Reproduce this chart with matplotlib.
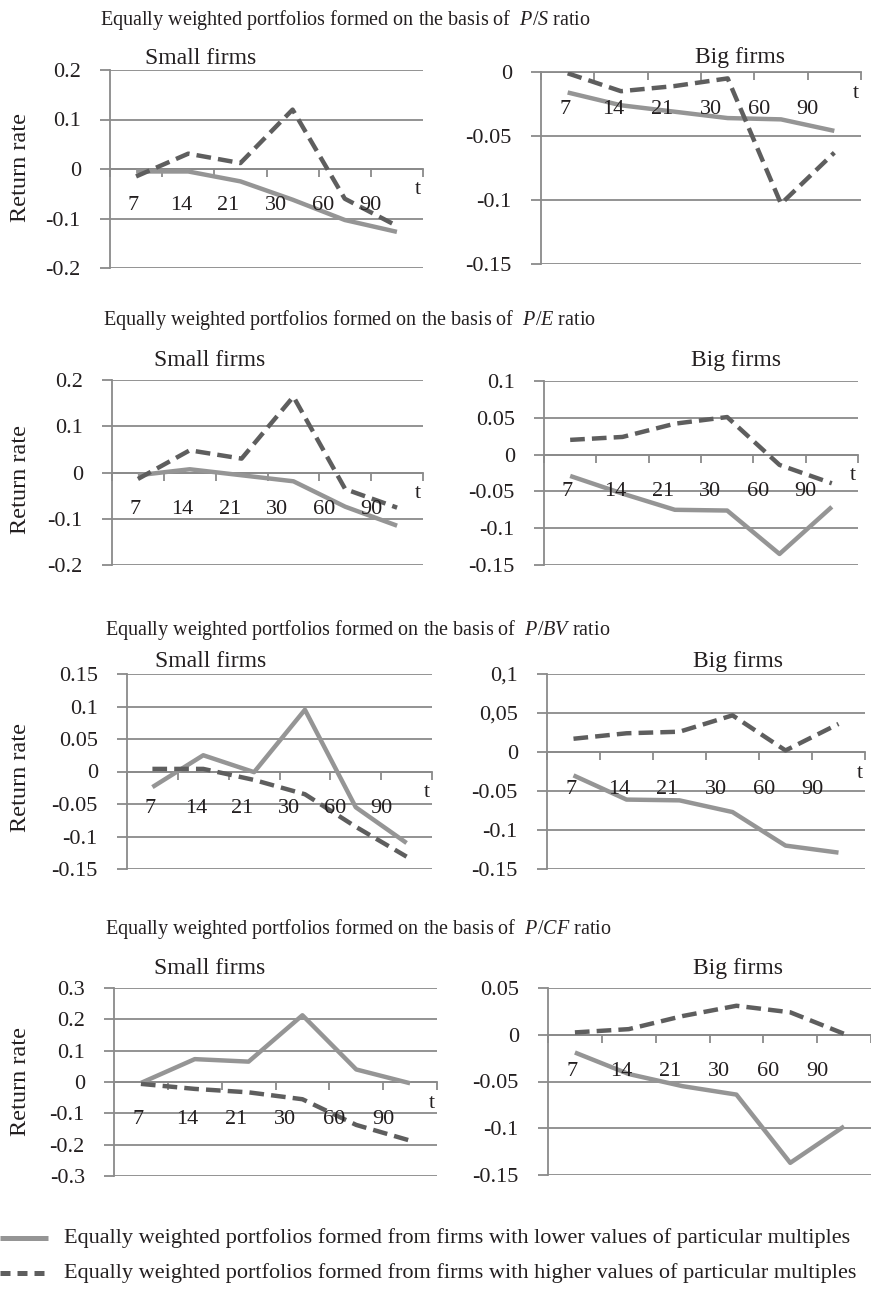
import numpy as np
import matplotlib
matplotlib.use("Agg")
import matplotlib.pyplot as plt
from matplotlib import transforms

plt.rcParams['font.family'] = ['Liberation Serif', 'DejaVu Serif']
plt.rcParams['mathtext.fontset'] = 'custom'
plt.rcParams['mathtext.rm'] = 'Liberation Serif'
plt.rcParams['mathtext.it'] = 'Liberation Serif:italic'

# holding periods (days)
periods = ['7', '14', '21', '30', '60', '90']

# return rates: lower / higher multiple portfolios
ps_small_low = [-0.005, -0.005, -0.025, -0.062, -0.103, -0.127]
ps_small_high = [-0.015, 0.031, 0.012, 0.120, -0.060, -0.115]
ps_big_low = [-0.016, -0.026, -0.031, -0.036, -0.037, -0.046]
ps_big_high = [-0.001, -0.015, -0.011, -0.005, -0.103, -0.063]

pe_small_low = [-0.006, 0.007, -0.006, -0.019, -0.074, -0.115]
pe_small_high = [-0.014, 0.048, 0.030, 0.164, -0.036, -0.076]
pe_big_low = [-0.029, -0.053, -0.075, -0.076, -0.135, -0.071]
pe_big_high = [0.020, 0.024, 0.042, 0.051, -0.014, -0.039]

pbv_small_low = [-0.024, 0.025, -0.001, 0.095, -0.055, -0.110]
pbv_small_high = [0.004, 0.004, -0.013, -0.035, -0.085, -0.131]
pbv_big_low = [-0.030, -0.061, -0.062, -0.077, -0.120, -0.129]
pbv_big_high = [0.017, 0.024, 0.026, 0.047, 0.002, 0.036]

pcf_small_low = [-0.003, 0.073, 0.065, 0.213, 0.040, -0.004]
pcf_small_high = [-0.006, -0.022, -0.033, -0.055, -0.137, -0.187]
pcf_big_low = [-0.019, -0.042, -0.055, -0.064, -0.137, -0.098]
pcf_big_high = [0.0025, 0.006, 0.020, 0.031, 0.024, 0.001]

# y axis ticks and their labels
ticks_02 = [-0.2, -0.1, 0, 0.1, 0.2]
labels_02 = ['-0.2', '-0.1', '0', '0.1', '0.2']
ticks_big_ps = [-0.15, -0.1, -0.05, 0]
labels_big_ps = ['-0.15', '-0.1', '-0.05', '0']
ticks_big_pe = [-0.15, -0.1, -0.05, 0, 0.05, 0.1]
labels_big_pe = ['-0.15', '-0.1', '-0.05', '0', '0.05', '0.1']
ticks_small_pbv = [-0.15, -0.1, -0.05, 0, 0.05, 0.1, 0.15]
labels_small_pbv = ['-0.15', '-0.1', '-0.05', '0', '0.05', '0.1', '0.15']
labels_big_pbv = ['-0.15', '-0.1', '-0.05', '0', '0,05', '0,1']
ticks_small_pcf = [-0.3, -0.2, -0.1, 0, 0.1, 0.2, 0.3]
labels_small_pcf = ['-0.3', '-0.2', '-0.1', '0', '0.1', '0.2', '0.3']
ticks_big_pcf = [-0.15, -0.1, -0.05, 0, 0.05]
labels_big_pcf = ['-0.15', '-0.1', '-0.05', '0', '0.05']

ratios = ['P/S', 'P/E', 'P/BV', 'P/CF']

W, H = 871, 1293
fig = plt.figure(figsize=(W / 100, H / 100), dpi=100)

TXT = '#231f20'
GRID = '#8a8a8a'
LOW_C = '#959595'
HIGH_C = '#5e5e5e'


def box(l, r, t, b):
    return [l / W, 1 - b / H, (r - l) / W, (b - t) / H]


def draw_panel(rect, low, high, yticks, ylabels, title, title_xy, show_t=True):
    ax = fig.add_axes(box(*rect))
    x = np.arange(len(periods)) + 0.5
    ax.set_xlim(0, len(periods))
    ax.set_ylim(yticks[0], yticks[-1])
    ax.set_facecolor('none')
    for s in ['top', 'right']:
        ax.spines[s].set_visible(False)
    ax.spines['left'].set_color(GRID)
    ax.spines['left'].set_linewidth(1.3)
    ax.spines['bottom'].set_position(('data', 0))
    ax.spines['bottom'].set_color(GRID)
    ax.spines['bottom'].set_linewidth(1.3)
    ax.set_yticks(yticks)
    ax.set_yticklabels(ylabels)
    ax.yaxis.grid(True, color=GRID, lw=1.3)
    ax.set_axisbelow(True)
    ax.tick_params(axis='y', length=7, width=1.3, color=GRID, pad=14,
                   labelsize=16, labelcolor=TXT)
    ax.set_xticks(np.arange(len(periods) + 1))
    ax.set_xticklabels([])
    ax.tick_params(axis='x', direction='out', length=6, width=1.3, color=GRID)

    ax.plot(x, low, color=LOW_C, lw=3.2, solid_capstyle='butt', zorder=3)
    ax.plot(x, high, color=HIGH_C, lw=3.2, dashes=(3.3, 1.6), zorder=3)

    lab_tr = transforms.offset_copy(ax.transData, fig=fig, y=-37, units='dots')
    for i, p in enumerate(periods):
        ax.text(0.45 + 0.91 * i, 0, p, transform=lab_tr, ha='center', va='center',
                fontsize=16, color=TXT)
    if show_t:
        t_tr = transforms.offset_copy(ax.get_yaxis_transform(), fig=fig,
                                      x=-5, y=-21, units='dots')
        ax.text(1.0, 0, 't', transform=t_tr, ha='center', va='center',
                fontsize=16, color=TXT, clip_on=False)
    fig.text(title_xy[0] / W, 1 - title_xy[1] / H, title, ha='center',
             va='baseline', fontsize=17, color=TXT)
    return ax


rows = [
    dict(small=(110, 423, 70, 268), big=(541, 861, 72, 264),
         s_low=ps_small_low, s_high=ps_small_high, s_t=ticks_02, s_l=labels_02,
         b_low=ps_big_low, b_high=ps_big_high, b_t=ticks_big_ps, b_l=labels_big_ps,
         st=(201, 64), bt=(740, 63), head=(100, 25), ylab=168, t=True),
    dict(small=(112, 423, 380, 565), big=(544, 858, 381, 565),
         s_low=pe_small_low, s_high=pe_small_high, s_t=ticks_02, s_l=labels_02,
         b_low=pe_big_low, b_high=pe_big_high, b_t=ticks_big_pe, b_l=labels_big_pe,
         st=(210, 366), bt=(736, 366), head=(103, 325), ylab=480, t=True),
    dict(small=(127, 432, 674, 869), big=(547, 865, 674, 869),
         s_low=pbv_small_low, s_high=pbv_small_high, s_t=ticks_small_pbv, s_l=labels_small_pbv,
         b_low=pbv_big_low, b_high=pbv_big_high, b_t=ticks_big_pe, b_l=labels_big_pbv,
         st=(211, 667), bt=(738, 667), head=(105, 635), ylab=778, t=True),
    dict(small=(114, 437, 988, 1176), big=(548, 871, 988, 1175),
         s_low=pcf_small_low, s_high=pcf_small_high, s_t=ticks_small_pcf, s_l=labels_small_pcf,
         b_low=pcf_big_low, b_high=pcf_big_high, b_t=ticks_big_pcf, b_l=labels_big_pcf,
         st=(210, 974), bt=(738, 974), head=(105, 934), ylab=1081, t=False),
]

for ratio, r in zip(ratios, rows):
    draw_panel(r['small'], r['s_low'], r['s_high'], r['s_t'], r['s_l'],
               'Small firms', r['st'])
    draw_panel(r['big'], r['b_low'], r['b_high'], r['b_t'], r['b_l'],
               'Big firms', r['bt'], show_t=r['t'])
    fig.text(r['head'][0] / W, 1 - r['head'][1] / H,
             'Equally weighted portfolios formed on the basis of  $\\mathit{' + ratio + '}$ ratio',
             ha='left', va='baseline', fontsize=14.5, color=TXT)
    fig.text(20 / W, 1 - r['ylab'] / H, 'Return rate', rotation=90,
             ha='center', va='center', fontsize=17.5, color=TXT)

# legend at the bottom, drawn on an overlay in pixel units
lg = fig.add_axes([0, 0, 1, 1])
lg.set_xlim(0, W)
lg.set_ylim(H, 0)
lg.axis('off')
lg.plot([0, 48], [1238, 1238], color=LOW_C, lw=3.6, solid_capstyle='butt')
lg.plot([0, 48], [1273, 1273], color=HIGH_C, lw=3.6, dashes=(2.0, 1.4))
lg.text(64, 1238, 'Equally weighted portfolios formed from firms with lower values of particular multiples',
        ha='left', va='center', fontsize=16, color=TXT)
lg.text(64, 1273, 'Equally weighted portfolios formed from firms with higher values of particular multiples',
        ha='left', va='center', fontsize=16, color=TXT)

fig.savefig('out.png', dpi=100)
